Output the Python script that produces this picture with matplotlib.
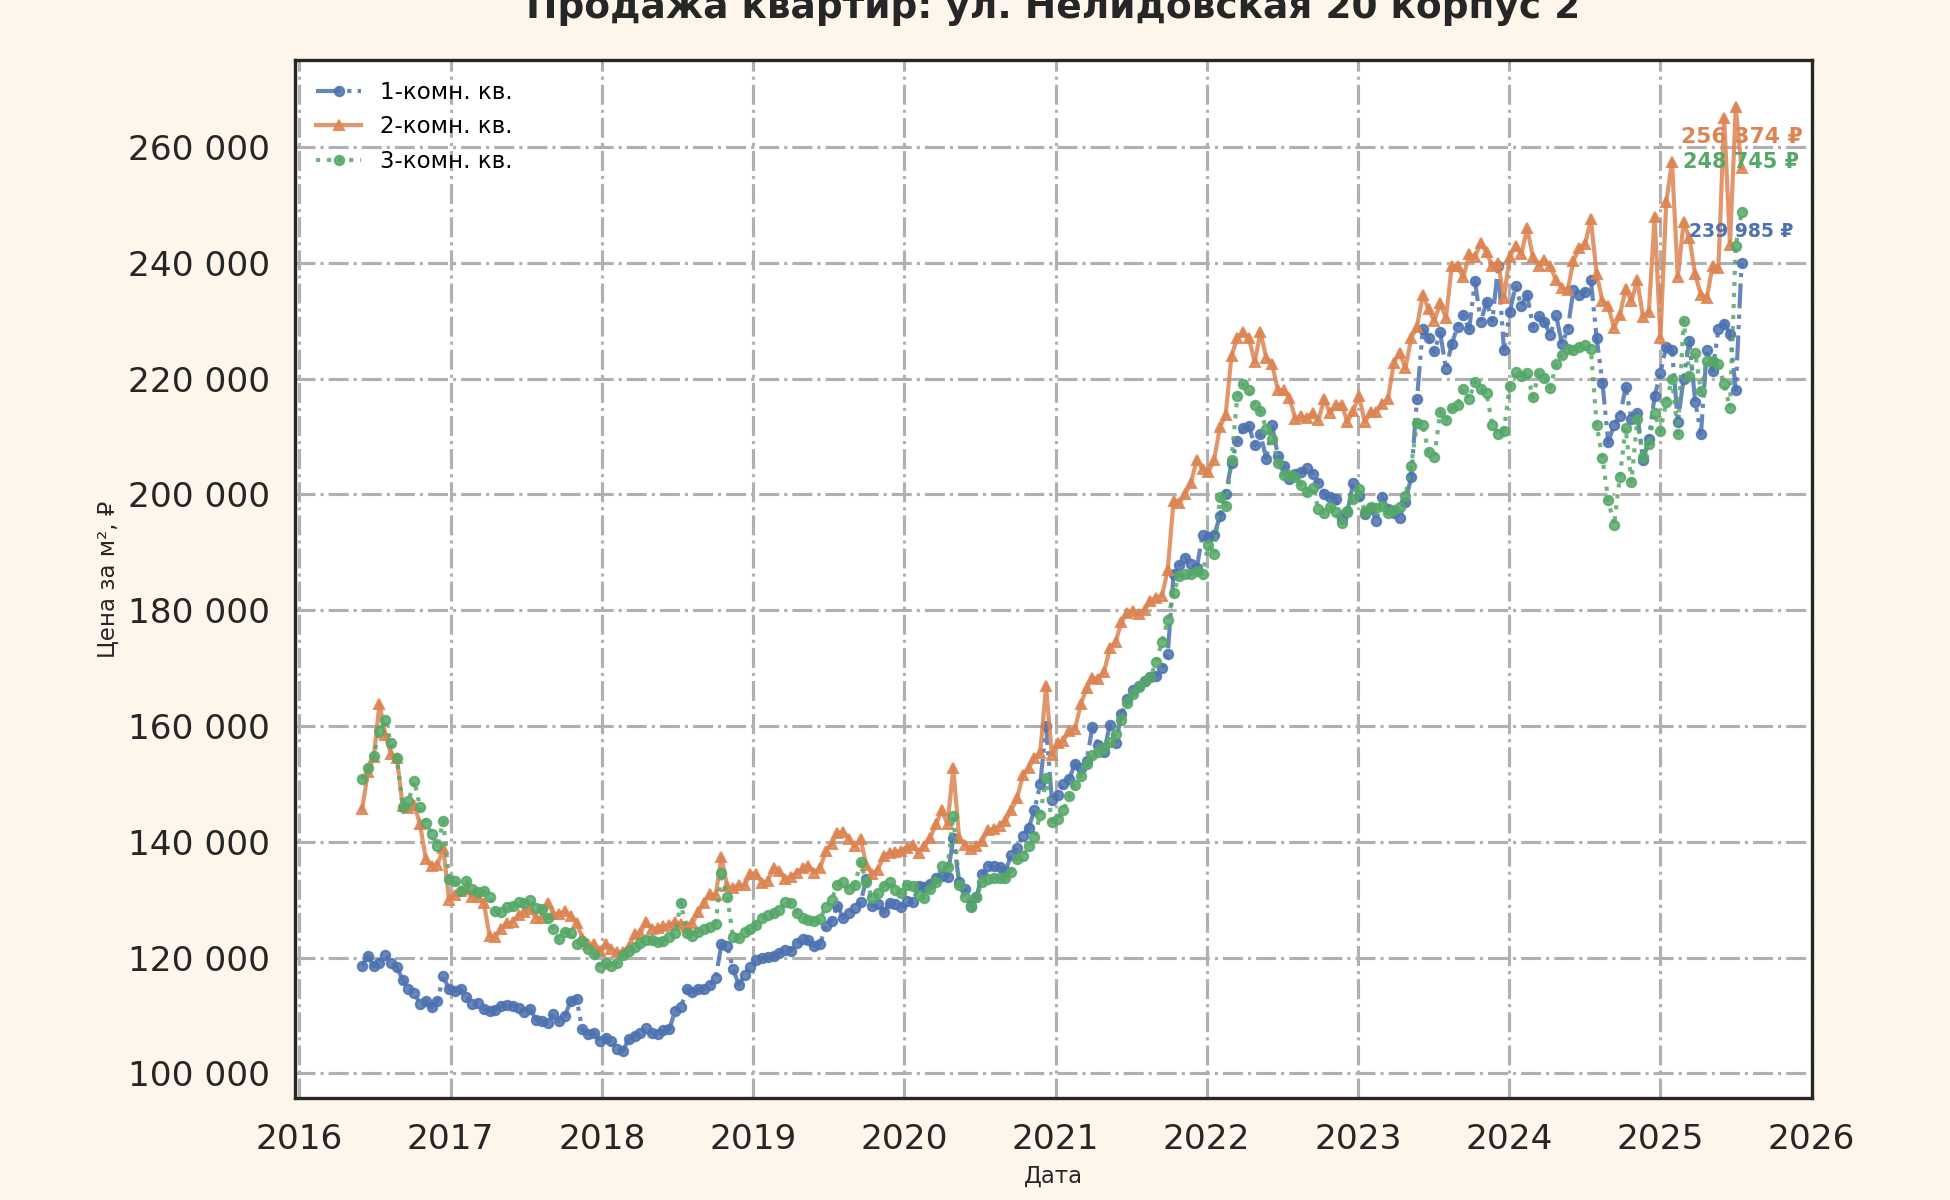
import pandas as pd
import matplotlib
matplotlib.use("Agg")
import matplotlib.pyplot as plt
import matplotlib.dates as mdates
from matplotlib.ticker import FuncFormatter, MultipleLocator

TITLE = "Продажа квартир: ул. Нелидовская 20 корпус 2"
SERIES_LABELS = ["1-комн. кв.", "2-комн. кв.", "3-комн. кв."]

# одна точка раз в две недели, цены в тысячах рублей за м²
START_DATE = "2016-06-01"
STEP = "14D"

PRICE_1K = [
    118.6, 120.3, 118.5, 119.0, 120.5, 119.0, 118.3, 116.2, 114.5, 113.9,
    112.0, 112.5, 111.4, 112.5, 116.8, 114.5, 114.3, 114.5, 113.2, 112.0,
    112.2, 111.1, 110.8, 111.0, 111.7, 111.9, 111.7, 111.3, 110.6, 111.1,
    109.3, 109.0, 108.7, 110.3, 109.0, 110.0, 112.5, 112.9, 107.6, 106.8,
    107.0, 105.6, 106.2, 105.6, 104.2, 103.9, 105.9, 106.5, 107.0, 107.9,
    107.0, 106.8, 107.5, 107.6, 110.8, 111.4, 114.5, 114.0, 114.6, 114.5,
    115.2, 116.5, 122.3, 122.0, 118.0, 115.3, 117.0, 118.4, 119.6, 119.9,
    120.1, 120.3, 120.8, 121.3, 121.2, 122.5, 123.3, 123.0, 122.0, 122.3,
    125.4, 126.4, 129.0, 126.8, 127.7, 128.5, 129.6, 133.5, 129.0, 129.2,
    127.8, 129.5, 129.2, 128.7, 129.8, 129.6, 132.3, 132.2, 132.7, 133.7,
    134.1, 134.0, 140.7, 133.1, 131.9, 128.9, 130.5, 134.4, 135.8, 135.8,
    135.7, 134.9, 137.8, 139.0, 141.0, 142.4, 145.5, 150.0, 160.0, 147.3,
    148.1, 150.0, 150.9, 153.5, 152.7, 154.0, 159.8, 156.8, 155.5, 160.2,
    157.0, 162.0, 164.6, 166.2, 167.0, 167.8, 168.4, 168.6, 170.0, 172.5,
    186.3, 187.8, 189.0, 188.0, 187.3, 193.0, 192.6, 193.0, 196.2, 200.0,
    205.5, 209.3, 211.5, 211.8, 208.5, 210.4, 206.2, 212.0, 206.7, 205.0,
    202.7, 203.5, 203.8, 204.6, 203.6, 202.0, 200.0, 199.6, 199.3, 195.8,
    197.0, 202.0, 199.8, 196.7, 197.7, 195.5, 199.5, 197.5, 196.8, 196.0,
    198.7, 203.0, 216.5, 228.5, 227.0, 224.7, 228.0, 221.7, 226.0, 229.0,
    231.0, 228.5, 236.9, 229.8, 233.3, 230.0, 239.5, 225.0, 231.5, 236.0,
    232.6, 234.5, 229.0, 230.8, 229.8, 227.5, 231.0, 226.0, 228.5, 235.4,
    234.5, 235.0, 237.0, 227.0, 219.3, 209.0, 212.0, 213.5, 218.5, 213.0,
    214.0, 206.0, 209.5, 217.0, 221.0, 225.5, 225.0, 212.5, 220.0, 226.5,
    216.0, 210.5, 225.0, 221.3, 228.5, 229.5, 227.8, 218.0, 239.985,
]

PRICE_2K = [
    145.6, 152.0, 154.6, 163.8, 158.5, 155.1, 154.5, 146.2, 145.8, 146.4,
    143.0, 137.0, 135.8, 136.0, 139.0, 130.0, 130.9, 131.5, 131.8, 130.4,
    130.4, 129.5, 123.7, 123.5, 125.0, 125.9, 126.1, 127.3, 127.8, 128.4,
    126.9, 126.9, 129.5, 127.6, 127.5, 128.0, 127.2, 126.0, 123.4, 122.3,
    122.3, 121.2, 122.4, 121.5, 120.9, 121.0, 121.9, 124.0, 124.3, 126.1,
    125.0, 125.1, 125.4, 125.7, 126.1, 125.8, 125.5, 126.0, 127.9, 129.4,
    131.0, 130.8, 137.3, 132.3, 132.0, 132.5, 132.5, 134.5, 134.5, 132.9,
    133.3, 135.5, 135.0, 133.5, 134.0, 134.6, 135.4, 135.9, 134.7, 135.4,
    138.4, 139.7, 141.5, 141.7, 140.5, 139.2, 140.5, 136.0, 134.4, 135.2,
    137.6, 138.1, 138.2, 138.4, 139.0, 139.5, 138.1, 139.2, 140.7, 143.0,
    145.5, 143.0, 152.8, 140.7, 139.5, 138.8, 139.2, 140.2, 142.0, 142.2,
    142.8, 143.6, 145.5, 147.5, 151.5, 152.7, 154.5, 155.4, 166.9, 155.0,
    157.0, 157.5, 159.1, 159.5, 163.8, 166.5, 168.3, 168.1, 169.3, 173.4,
    174.5, 177.9, 179.6, 179.8, 179.3, 180.0, 181.6, 182.2, 182.5, 187.0,
    198.9, 198.6, 200.0, 202.0, 206.0, 204.4, 203.8, 206.0, 211.6, 213.8,
    224.0, 227.0, 228.0, 227.0, 222.9, 228.0, 223.6, 222.5, 218.0, 218.0,
    216.7, 213.1, 213.5, 213.2, 214.0, 212.8, 216.5, 214.0, 215.5, 215.5,
    212.5, 214.5, 217.0, 212.5, 214.2, 214.3, 215.6, 216.5, 222.7, 224.5,
    221.8, 227.0, 229.0, 234.5, 232.0, 230.0, 233.0, 230.5, 239.5, 239.4,
    237.5, 241.5, 241.0, 243.5, 241.8, 239.5, 240.0, 234.0, 241.0, 243.0,
    241.5, 246.0, 241.0, 239.5, 240.5, 239.4, 237.0, 235.7, 235.3, 240.4,
    242.5, 243.2, 247.5, 238.0, 233.5, 232.5, 228.8, 231.0, 235.5, 233.4,
    237.0, 230.7, 231.5, 248.0, 227.0, 250.5, 257.5, 237.5, 247.0, 244.3,
    238.0, 234.4, 234.0, 239.4, 239.1, 265.0, 243.1, 266.9, 256.374,
]

PRICE_3K = [
    150.8, 152.7, 154.9, 159.1, 161.0, 157.0, 154.5, 146.0, 147.0, 150.5,
    146.0, 143.3, 141.3, 139.3, 143.6, 133.5, 133.3, 131.5, 133.2, 131.8,
    131.3, 131.5, 130.5, 128.1, 127.8, 128.8, 128.9, 129.6, 129.4, 130.0,
    128.6, 128.4, 126.9, 125.0, 123.2, 124.5, 124.3, 122.3, 122.9, 121.5,
    120.6, 118.4, 119.0, 118.6, 119.0, 120.4, 121.1, 121.8, 122.5, 123.1,
    123.0, 122.7, 122.9, 123.5, 124.2, 129.5, 124.3, 123.8, 124.5, 125.0,
    125.3, 125.8, 134.7, 130.5, 123.5, 123.4, 124.4, 125.0, 125.7, 126.8,
    127.4, 127.7, 128.2, 129.6, 129.5, 127.7, 126.9, 126.5, 126.3, 126.6,
    128.8, 130.0, 132.6, 133.0, 131.8, 132.6, 136.5, 133.0, 130.3, 131.1,
    132.4, 133.0, 131.6, 131.2, 132.6, 132.4, 130.8, 130.3, 131.8, 133.0,
    135.8, 135.6, 144.5, 132.5, 130.4, 128.7, 130.5, 133.1, 133.6, 133.8,
    133.8, 133.7, 134.8, 137.0, 137.5, 139.3, 140.8, 144.7, 151.0, 143.5,
    143.9, 145.5, 147.9, 149.9, 151.4, 153.4, 155.0, 155.6, 156.2, 157.2,
    158.7, 161.0, 164.0, 165.6, 166.8, 167.7, 168.5, 171.0, 174.6, 178.3,
    183.0, 186.0, 186.3, 186.3, 186.8, 186.3, 191.2, 189.7, 199.5, 198.0,
    206.0, 217.0, 219.0, 218.0, 215.5, 214.4, 211.3, 209.6, 205.4, 203.4,
    203.4, 203.0, 201.7, 200.5, 201.2, 197.5, 196.8, 197.8, 197.0, 195.0,
    197.1, 199.3, 201.0, 197.0, 197.8, 197.6, 198.0, 196.8, 197.3, 197.9,
    199.7, 205.0, 212.3, 212.0, 207.3, 206.5, 214.3, 212.8, 214.9, 215.5,
    218.3, 216.5, 219.5, 218.2, 217.5, 212.0, 210.5, 211.0, 218.8, 221.2,
    220.5, 221.0, 216.8, 221.0, 220.2, 218.4, 222.5, 224.1, 225.2, 225.0,
    225.5, 225.9, 225.2, 212.0, 206.3, 199.0, 194.7, 203.0, 211.5, 202.2,
    213.0, 206.5, 208.8, 214.0, 211.0, 216.0, 220.0, 210.5, 230.0, 220.5,
    224.5, 217.8, 223.0, 223.0, 222.5, 219.0, 215.0, 243.0, 248.745,
]

COLORS = ["#4c72b0", "#dd8452", "#55a868"]
LINESTYLES = [(0, (6, 1.5, 1, 1.5, 1, 1.5)), "-", ":"]
MARKERS = ["o", "^", "o"]
LABEL_OFFSETS = [15, 15, 24]      # сдвиг подписи последнего значения, pt
LABEL_SIZES = [9, 10.5, 10]


def rub(v, _pos=None):
    return f"{v:,.0f}".replace(",", " ")


def main():
    dates = pd.date_range(START_DATE, periods=len(PRICE_1K), freq=STEP)
    series = [PRICE_1K, PRICE_2K, PRICE_3K]

    fig = plt.figure(figsize=(13, 8), dpi=150, facecolor="#fef6eb")
    ax = fig.add_axes([0.1513, 0.085, 0.7779, 0.865])
    ax.set_facecolor("white")

    for vals, label, color, ls, mk in zip(series, SERIES_LABELS, COLORS, LINESTYLES, MARKERS):
        y = [v * 1000 for v in vals]
        ax.plot(dates, y, label=label, color=color, linestyle=ls, linewidth=2,
                marker=mk, markersize=4.5, alpha=0.85)

    for vals, color, dy, fs in zip(series, COLORS, LABEL_OFFSETS, LABEL_SIZES):
        last = vals[-1] * 1000
        ax.annotate(rub(last) + " ₽", xy=(dates[-1], last), xytext=(0, dy),
                    textcoords="offset points", ha="center", va="center",
                    color=color, fontsize=fs, fontweight="bold")

    # заголовок уходит за верхний край, как в исходной картинке
    ax.set_title(TITLE, fontsize=18, fontweight="bold", pad=20, color="#262626")
    ax.set_xlabel("Дата", fontsize=11, color="#262626", labelpad=4)
    ax.set_ylabel("Цена за м², ₽", fontsize=11, color="#262626", labelpad=4)

    ax.set_xlim(pd.Timestamp("2015-12-22"), pd.Timestamp("2026-01-02"))
    ax.xaxis.set_major_locator(mdates.YearLocator())
    ax.xaxis.set_major_formatter(mdates.DateFormatter("%Y"))
    ax.yaxis.set_major_locator(MultipleLocator(20000))
    ax.yaxis.set_major_formatter(FuncFormatter(rub))
    ax.tick_params(labelsize=16.5, length=0, pad=12, colors="#262626")

    ax.grid(True, color="#b0b0b0", linestyle="-.", linewidth=1.5)
    for sp in ax.spines.values():
        sp.set_color("#262626")
        sp.set_linewidth(1.6)

    ax.legend(loc="upper left", frameon=False, fontsize=11)

    fig.savefig("out.png", dpi=150, facecolor=fig.get_facecolor())


if __name__ == "__main__":
    main()
